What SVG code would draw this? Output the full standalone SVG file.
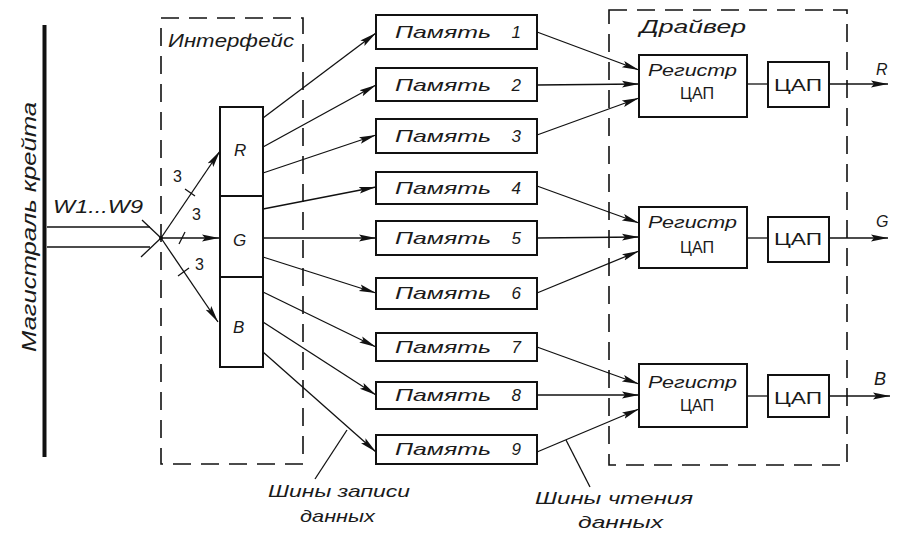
<svg xmlns="http://www.w3.org/2000/svg" width="897" height="533" viewBox="0 0 897 533">
<style>
.bg{fill:#fff}
.box{fill:#fff;stroke:#111;stroke-width:2}
.dash{fill:none;stroke:#111;stroke-width:1.6;stroke-dasharray:18 10}
.ln{fill:none;stroke:#111;stroke-width:1.3}
.ar{fill:none;stroke:#111;stroke-width:1.3;marker-end:url(#ah)}
.t{font-family:"Liberation Sans",Arial,sans-serif;font-style:italic;fill:#1a1a1a}
.u{font-family:"Liberation Sans",Arial,sans-serif;fill:#1a1a1a}
</style>
<defs>
<marker id="ah" markerUnits="userSpaceOnUse" markerWidth="19" markerHeight="10" refX="17" refY="5" orient="auto">
<path d="M0,1.6 L17,5 L0,8.4 L3,5 z" fill="#111"/>
</marker>
</defs>
<rect class="bg" x="0" y="0" width="897" height="533"/>

<g id="bus">
<line x1="44.5" y1="25" x2="44.5" y2="457" stroke="#111" stroke-width="4"/>
<text class="t" font-size="20" transform="translate(36,352) rotate(-90)" textLength="250" lengthAdjust="spacingAndGlyphs">Магистраль  крейта</text>
</g>

<g id="interface">
<rect class="dash" x="161" y="18" width="142" height="446"/>
<text class="t" font-size="19" x="168" y="47" textLength="126" lengthAdjust="spacingAndGlyphs">Интерфейс</text>
</g>

<g id="rgb">
<rect id="boxR" class="box" x="220" y="107" width="43" height="89"/>
<rect id="boxG" class="box" x="220" y="196" width="43" height="81"/>
<rect id="boxB" class="box" x="220" y="277" width="43" height="90"/>
<text class="t" font-size="17" x="234" y="156">R</text>
<text class="t" font-size="17" x="233" y="246">G</text>
<text class="t" font-size="17" x="233" y="333">B</text>
</g>

<g id="mem1"><rect class="box" x="376" y="15" width="161" height="34"/><text class="t" font-size="17" x="395" y="38" textLength="96" lengthAdjust="spacingAndGlyphs">Память</text><text class="t" font-size="17" x="521" y="38" text-anchor="end">1</text></g>
<g id="mem2"><rect class="box" x="376" y="68" width="161" height="33"/><text class="t" font-size="17" x="395" y="91" textLength="96" lengthAdjust="spacingAndGlyphs">Память</text><text class="t" font-size="17" x="521" y="91" text-anchor="end">2</text></g>
<g id="mem3"><rect class="box" x="376" y="119" width="161" height="34"/><text class="t" font-size="17" x="395" y="142" textLength="96" lengthAdjust="spacingAndGlyphs">Память</text><text class="t" font-size="17" x="521" y="142" text-anchor="end">3</text></g>
<g id="mem4"><rect class="box" x="376" y="172" width="161" height="32"/><text class="t" font-size="17" x="395" y="194" textLength="96" lengthAdjust="spacingAndGlyphs">Память</text><text class="t" font-size="17" x="521" y="194" text-anchor="end">4</text></g>
<g id="mem5"><rect class="box" x="376" y="221" width="161" height="34"/><text class="t" font-size="17" x="395" y="244" textLength="96" lengthAdjust="spacingAndGlyphs">Память</text><text class="t" font-size="17" x="521" y="244" text-anchor="end">5</text></g>
<g id="mem6"><rect class="box" x="376" y="278" width="161" height="31"/><text class="t" font-size="17" x="395" y="299" textLength="96" lengthAdjust="spacingAndGlyphs">Память</text><text class="t" font-size="17" x="521" y="299" text-anchor="end">6</text></g>
<g id="mem7"><rect class="box" x="376" y="333" width="161" height="28"/><text class="t" font-size="17" x="395" y="353" textLength="96" lengthAdjust="spacingAndGlyphs">Память</text><text class="t" font-size="17" x="521" y="353" text-anchor="end">7</text></g>
<g id="mem8"><rect class="box" x="376" y="382" width="161" height="27"/><text class="t" font-size="17" x="395" y="401" textLength="96" lengthAdjust="spacingAndGlyphs">Память</text><text class="t" font-size="17" x="521" y="401" text-anchor="end">8</text></g>
<g id="mem9"><rect class="box" x="376" y="435" width="161" height="29"/><text class="t" font-size="17" x="395" y="455" textLength="96" lengthAdjust="spacingAndGlyphs">Память</text><text class="t" font-size="17" x="521" y="455" text-anchor="end">9</text></g>

<g id="driver">
<rect class="dash" x="609" y="10" width="238" height="455"/>
<text class="t" font-size="19" x="640" y="33" textLength="106" lengthAdjust="spacingAndGlyphs">Драйвер</text>
</g>

<g id="reg1"><rect class="box" x="639" y="55" width="108" height="62"/><text class="t" font-size="17" x="648" y="76" textLength="89" lengthAdjust="spacingAndGlyphs">Регистр</text><text class="u" font-size="16" x="680" y="99" textLength="34" lengthAdjust="spacingAndGlyphs">ЦАП</text></g>
<g id="reg2"><rect class="box" x="639" y="207" width="108" height="61"/><text class="t" font-size="17" x="648" y="228" textLength="89" lengthAdjust="spacingAndGlyphs">Регистр</text><text class="u" font-size="16" x="680" y="253" textLength="34" lengthAdjust="spacingAndGlyphs">ЦАП</text></g>
<g id="reg3"><rect class="box" x="639" y="364" width="108" height="63"/><text class="t" font-size="17" x="648" y="388" textLength="89" lengthAdjust="spacingAndGlyphs">Регистр</text><text class="u" font-size="16" x="680" y="411" textLength="34" lengthAdjust="spacingAndGlyphs">ЦАП</text></g>

<g id="dac1"><rect class="box" x="768" y="62" width="61" height="45"/><text class="u" font-size="16" x="774" y="91" textLength="48" lengthAdjust="spacingAndGlyphs">ЦАП</text></g>
<g id="dac2"><rect class="box" x="768" y="217" width="61" height="45"/><text class="u" font-size="16" x="774" y="245" textLength="48" lengthAdjust="spacingAndGlyphs">ЦАП</text></g>
<g id="dac3"><rect class="box" x="768" y="375" width="61" height="42"/><text class="u" font-size="16" x="774" y="404" textLength="48" lengthAdjust="spacingAndGlyphs">ЦАП</text></g>

<g id="connectors">
<line class="ln" x1="47" y1="227" x2="150" y2="227"/>
<line class="ln" x1="47" y1="247" x2="150" y2="247"/>
<line class="ln" x1="142" y1="220" x2="161" y2="238"/>
<line class="ln" x1="141" y1="257" x2="161" y2="238"/>
<circle cx="161" cy="238" r="2" fill="#111"/>
<line class="ar" x1="161" y1="238" x2="220" y2="151"/>
<line class="ar" x1="161" y1="238" x2="219" y2="238"/>
<line class="ar" x1="161" y1="238" x2="218" y2="322"/>
<line class="ln" x1="185" y1="189" x2="195" y2="196"/>
<line class="ln" x1="179" y1="244" x2="185" y2="232"/>
<line class="ln" x1="178" y1="276" x2="189" y2="268"/>
<text class="u" font-size="16" x="173" y="182">3</text>
<text class="u" font-size="16" x="192" y="220">3</text>
<text class="u" font-size="16" x="195" y="270">3</text>

<line class="ar" x1="263" y1="118" x2="376" y2="33"/>
<line class="ar" x1="263" y1="147" x2="376" y2="85"/>
<line class="ar" x1="263" y1="173" x2="376" y2="135"/>
<line class="ar" x1="263" y1="209" x2="376" y2="187"/>
<line class="ar" x1="263" y1="238" x2="376" y2="238"/>
<line class="ar" x1="263" y1="257" x2="376" y2="293"/>
<line class="ar" x1="263" y1="292" x2="376" y2="347"/>
<line class="ar" x1="263" y1="322" x2="376" y2="395"/>
<line class="ar" x1="263" y1="352" x2="376" y2="452"/>

<line class="ar" x1="537" y1="32" x2="639" y2="70"/>
<line class="ar" x1="537" y1="85" x2="639" y2="84"/>
<line class="ar" x1="537" y1="135" x2="639" y2="98"/>
<line class="ar" x1="537" y1="186" x2="639" y2="223"/>
<line class="ar" x1="537" y1="238" x2="639" y2="237"/>
<line class="ar" x1="537" y1="293" x2="639" y2="251"/>
<line class="ar" x1="537" y1="347" x2="639" y2="384"/>
<line class="ar" x1="537" y1="395" x2="639" y2="395"/>
<line class="ar" x1="537" y1="452" x2="639" y2="409"/>

<line class="ln" x1="747" y1="84" x2="768" y2="84"/>
<line class="ln" x1="747" y1="238" x2="768" y2="238"/>
<line class="ln" x1="747" y1="396" x2="768" y2="396"/>

<line class="ar" x1="829" y1="84" x2="888" y2="84"/>
<line class="ar" x1="829" y1="238" x2="888" y2="238"/>
<line class="ar" x1="829" y1="396" x2="890" y2="396"/>
<text class="t" font-size="16" x="876" y="75">R</text>
<text class="t" font-size="16" x="876" y="227">G</text>
<text class="t" font-size="18" x="874" y="385">B</text>

<line class="ln" x1="347" y1="430" x2="315" y2="479"/>
<line class="ln" x1="566" y1="440" x2="590" y2="487"/>
</g>

<g id="labels">
<text class="t" font-size="17" x="268" y="497" textLength="142" lengthAdjust="spacingAndGlyphs">Шины записи</text>
<text class="t" font-size="17" x="300" y="522" textLength="75" lengthAdjust="spacingAndGlyphs">данных</text>
<text class="t" font-size="17" x="535" y="504" textLength="158" lengthAdjust="spacingAndGlyphs">Шины чтения</text>
<text class="t" font-size="17" x="578" y="528" textLength="85" lengthAdjust="spacingAndGlyphs">данных</text>
<text class="t" font-size="18" x="53" y="213" textLength="90" lengthAdjust="spacingAndGlyphs">W1...W9</text>
</g>
</svg>
